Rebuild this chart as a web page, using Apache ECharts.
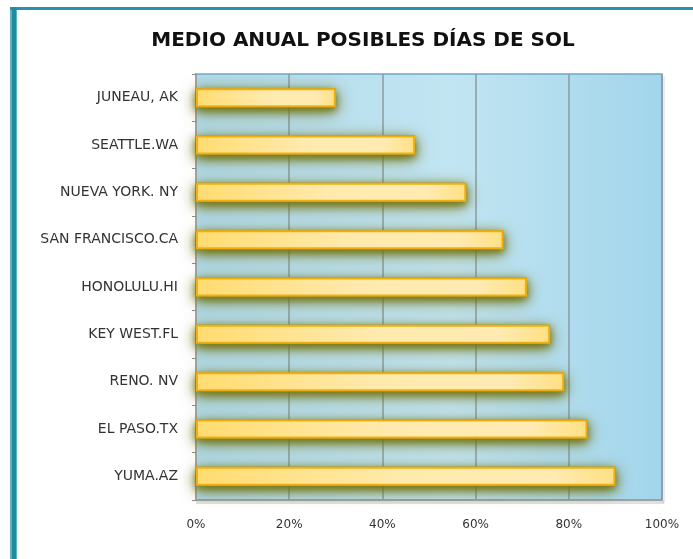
<!DOCTYPE html>
<html>
<head>
<meta charset="utf-8">
<script src="https://cdn.jsdelivr.net/npm/echarts@6/dist/echarts.min.js"></script>
<style>
  html, body { margin: 0; padding: 0; background: #ffffff; }
  #chart { width: 693px; height: 559px; }
</style>
</head>
<body>
<div id="chart"></div>
<script>
// Cities, top to bottom
const cities = [
  'JUNEAU, AK',
  'SEATTLE.WA',
  'NUEVA YORK. NY',
  'SAN FRANCISCO.CA',
  'HONOLULU.HI',
  'KEY WEST.FL',
  'RENO. NV',
  'EL PASO.TX',
  'YUMA.AZ'
];
// Average annual share of possible sunshine (%)
const sunshine = [30, 47, 58, 66, 71, 76, 79, 84, 90];
// Percentage axis ticks
const pctTicks = [0, 20, 40, 60, 80, 100];

const chart = echarts.init(document.getElementById('chart'), null, { renderer: 'canvas' });

const grad = (stops, x2, y2) => new echarts.graphic.LinearGradient(0, 0, x2, y2,
  stops.map(([offset, color]) => ({ offset, color })));

// soft olive halo layer drawn under the bars
const glowLayer = (blur, offsetY, color) => ({
  type: 'bar',
  data: sunshine,
  barWidth: 19,
  barGap: '-100%',
  silent: true,
  itemStyle: {
    color: '#9a9a3a',
    shadowColor: color,
    shadowBlur: blur,
    shadowOffsetY: offsetY
  },
  z: 2
});

chart.setOption({
  animation: false,
  backgroundColor: '#ffffff',
  title: {
    text: 'MEDIO ANUAL POSIBLES DÍAS DE SOL',
    left: 358,
    top: 26,
    textAlign: 'center',
    textStyle: {
      fontFamily: 'DejaVu Sans',
      fontWeight: 'bold',
      fontSize: 20,
      color: '#111111'
    }
  },
  graphic: [
    // teal frame: left and top edges
    { type: 'rect', shape: { x: 10, y: 7, width: 7, height: 552 }, style: { fill: '#5fb3c4' }, z: 10 },
    { type: 'rect', shape: { x: 12, y: 7, width: 4, height: 552 }, style: { fill: '#1f8aa0' }, z: 11 },
    { type: 'rect', shape: { x: 10, y: 7, width: 683, height: 3 }, style: { fill: '#2a92a8' }, z: 10 },
    // soft shadow below the value axis
    { type: 'rect', shape: { x: 196, y: 501, width: 468, height: 3 }, style: { fill: 'rgba(0,0,0,0.12)' }, z: 1 },
    { type: 'rect', shape: { x: 663, y: 76, width: 2, height: 427 }, style: { fill: 'rgba(0,0,0,0.08)' }, z: 1 }
  ],
  grid: {
    left: 196,
    right: 31,
    top: 74,
    bottom: 59,
    show: true,
    borderColor: '#6fa9c8',
    borderWidth: 1.5,
    backgroundColor: grad([[0, '#b0d9e8'], [0.55, '#c2e5f2'], [1, '#a2d5eb']], 1, 0)
  },
  xAxis: {
    type: 'value',
    min: pctTicks[0],
    max: pctTicks[pctTicks.length - 1],
    interval: 20,
    axisLine: { show: true, lineStyle: { color: '#9aa0a3', width: 2 } },
    axisTick: { show: false },
    splitLine: { show: true, lineStyle: { color: '#8c9aa0', width: 1.5 } },
    axisLabel: {
      margin: 19,
      formatter: '{value}%',
      fontFamily: 'DejaVu Sans',
      fontSize: 12,
      color: '#333333'
    }
  },
  yAxis: {
    type: 'category',
    data: cities,
    inverse: true,
    axisLine: { show: true, lineStyle: { color: '#a0a4a6', width: 2 } },
    axisTick: { show: true, length: 4, lineStyle: { color: '#8a8a8a' } },
    splitLine: { show: false },
    axisLabel: {
      margin: 18,
      fontFamily: 'DejaVu Sans',
      fontSize: 14,
      color: '#333333'
    }
  },
  series: [
    glowLayer(16, 4, 'rgba(105,105,0,1)'),
    glowLayer(7, 3, 'rgba(120,120,20,0.9)'),
    {
      type: 'bar',
      data: sunshine,
      barWidth: 19,
      barGap: '-100%',
      itemStyle: {
        color: grad([[0, '#ffdc70'], [0.5, '#ffeaae'], [0.85, '#ffebb2'], [1, '#ffe084']], 1, 0),
        borderColor: '#f0ae12',
        borderWidth: 2
      },
      z: 3
    }
  ]
});
</script>
</body>
</html>
